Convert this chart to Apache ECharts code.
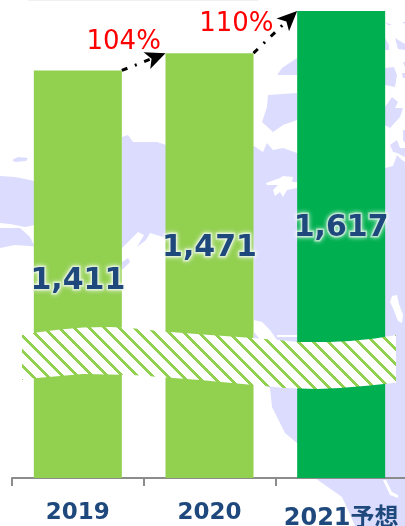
<!DOCTYPE html>
<html>
<head>
<meta charset="utf-8">
<style>
html, body { margin: 0; padding: 0; background: #fff; }
#chart { width: 405px; height: 526px; }
</style>
<script src="https://cdn.jsdelivr.net/npm/echarts@6/dist/echarts.min.js"></script>
</head>
<body>
<div id="chart"></div>
<script>
const categories = ['2019', '2020', '2021予想']
const values = [1411, 1471, 1617]
const growth = [104, 110]

const LIGHT_GREEN = '#92d050'
const DARK_GREEN = '#00b050'
const NAVY = '#1f497d'
const MAP = '#dcdcff'
const BAR_WIDTH = 88

// vertical nudges of the value labels, same order as values
const labelOffsets = [7, -17, -16]
// where each growth label sits relative to the middle of its arrow
const growthOffsets = [[-20, -20], [-39, -8]]

// background world map, traced roughly
const mapLand = [
  [[0,176],[15,177],[30,180],[45,184],[60,187],[80,190],[100,193],[122,200],[122,137],[128,135],[133,142],[157,142],[166,145],[254,146],[257,148],[263,152],[267,143],[273,150],[283,148],[297,153],[385,168],[393,166],[397,155],[402,160],[405,162],[405,478],[385,478],[297,443],[285,433],[272,407],[270,388],[254,380],[254,260],[166,237],[163,237],[150,233],[146,240],[137,247],[144,235],[138,232],[133,237],[122,248],[122,262],[128,258],[130,262],[122,270],[100,218],[75,211],[62,212],[55,213],[50,222],[25,227],[10,224],[0,223]],
  [[0,228],[20,228],[30,237],[34,245],[42,247],[15,245],[0,248]],
  [[12,160],[18,157],[28,158],[26,161],[15,162]],
  [[277,75],[282,68],[297,58],[297,75],[283,75]],
  [[268,95],[297,93],[297,120],[283,125],[273,132],[262,122],[267,107]],
  [[385,22],[392,25],[388,25]],
  [[402,22],[405,22],[405,24]],
  [[385,38],[389,45],[389,50],[385,50]],
  [[395,38],[405,44],[405,50],[398,49]],
  [[403,62],[405,62],[405,67]],
  [[385,68],[394,67],[397,75],[395,87],[385,85]],
  [[402,73],[405,73],[405,78],[403,78]],
  [[385,107],[392,97],[398,102],[395,108],[403,108],[400,117],[390,128],[385,125]],
  [[403,130],[405,130],[405,143],[403,140]],
  [[390,145],[397,140],[400,148],[405,148],[405,157],[397,153],[393,152]],
  [[315,478],[405,478],[405,526],[355,526],[348,510],[342,497]]
]
const mapWater = [
  [[266,183],[280,178],[283,176],[293,177],[292,182],[297,182],[297,188],[287,190],[283,197],[280,192],[275,196],[273,190],[278,185],[267,185]],
  [[254,320],[262,322],[270,330],[277,340],[262,342],[254,332]],
  [[277,335],[297,335],[297,337],[277,337]],
  [[392,296],[397,295],[399,304],[403,315],[402,323],[398,321],[393,308],[390,302]],
  [[383,480],[386,480],[392,492],[398,495],[398,498],[390,495]]
]
const bandEdge = [
  [22,335],[40,332],[60,329.5],[83,327.5],[110,327],[130,328],[167,331.7],[210,335],[253,338],[300,342],[330,342],[350,341],[375,338.5],[396,335],
  [396,382.7],[367,385.7],[340,388],[317,389],[285,388],[253,385],[200,380],[133,375],[83,374],[60,376],[37,378],[22,380]
]

function hatchTile() {
  const size = 15
  const c = document.createElement('canvas')
  c.width = size
  c.height = size
  const ctx = c.getContext('2d')
  ctx.fillStyle = '#fff'
  ctx.fillRect(0, 0, size, size)
  ctx.fillStyle = LIGHT_GREEN
  for (let y = 0; y < size; y++) {
    for (let x = 0; x < size; x++) {
      if ((x - y + size) % size < 4) ctx.fillRect(x, y, 1, 1)
    }
  }
  return c
}

const poly = (points, fill, z) => ({ type: 'polygon', silent: true, z, shape: { points }, style: { fill } })

const chart = echarts.init(document.getElementById('chart'), null, { renderer: 'canvas' })

chart.setOption({
  animation: false,
  backgroundColor: '#fff',
  grid: { left: 12, width: 395, top: 0, bottom: 48, outerBoundsMode: 'none' },
  xAxis: {
    type: 'category',
    data: categories.map((c, i) => (i === 2 ? { value: c, textStyle: { padding: [5, 0, 0, 0], fontSize: 24 } } : c)),
    axisLine: { lineStyle: { color: '#8c8c8c', width: 2 } },
    axisTick: { show: true, length: 8, lineStyle: { color: '#8c8c8c', width: 2 } },
    axisLabel: {
      interval: 0,
      margin: 24,
      color: NAVY,
      fontSize: 23,
      fontWeight: 'bold',
      fontFamily: '"DejaVu Sans", "Noto Sans CJK JP", sans-serif'
    }
  },
  yAxis: { type: 'value', min: 0, max: 1655, show: false },
  graphic: [
    { type: 'rect', silent: true, z: -1, shape: { x: 28, y: -2, width: 230, height: 3 }, style: { fill: '#f0f0f0' } },
    ...mapLand.map(p => poly(p, MAP, -2)),
    ...mapWater.map(p => poly(p, '#fff', -1)),
    poly(bandEdge, { image: hatchTile(), repeat: 'repeat' }, 20)
  ],
  series: [
    {
      type: 'bar',
      barWidth: BAR_WIDTH,
      z: 5,
      data: values.map((v, i) => ({
        value: v,
        itemStyle: { color: i === 2 ? DARK_GREEN : LIGHT_GREEN },
        label: { offset: [0, labelOffsets[i]] }
      })),
      label: {
        show: true,
        position: 'inside',
        formatter: p => p.value.toLocaleString('en-US'),
        color: NAVY,
        fontSize: 30,
        fontWeight: 'bold',
        fontFamily: '"DejaVu Sans", sans-serif',
        textBorderColor: 'rgba(235,245,235,0.55)',
        textBorderWidth: 3,
        textShadowColor: 'rgba(255,255,255,0.9)',
        textShadowBlur: 5
      }
    },
    {
      // growth arrows between bar tops
      type: 'custom',
      z: 10,
      silent: true,
      data: growth.map((g, i) => [i, values[i], values[i + 1], g]),
      encode: { x: 0, y: 1 },
      renderItem: (params, api) => {
        const a = api.coord([api.value(0), api.value(1)])
        const b = api.coord([api.value(0) + 1, api.value(2)])
        const x1 = a[0] + BAR_WIDTH / 2
        const y1 = a[1]
        const x2 = b[0] - BAR_WIDTH / 2
        const y2 = b[1]
        const ang = Math.atan2(y2 - y1, x2 - x1)
        const back = (d, s) => [
          x2 - Math.cos(ang) * d - Math.sin(ang) * s,
          y2 - Math.sin(ang) * d + Math.cos(ang) * s
        ]
        const off = growthOffsets[params.dataIndex]
        return {
          type: 'group',
          children: [
            {
              type: 'line',
              shape: { x1, y1, x2: back(14, 0)[0], y2: back(14, 0)[1] },
              style: { stroke: '#000', lineWidth: 3, lineDash: [6, 8, 2, 8], fill: null }
            },
            {
              type: 'polygon',
              shape: { points: [[x2, y2], back(20, 9), back(15, 0), back(20, -9)] },
              style: { fill: '#000' }
            },
            {
              type: 'text',
              style: {
                x: (x1 + x2) / 2 + off[0],
                y: (y1 + y2) / 2 + off[1],
                text: api.value(3) + '%',
                fill: '#ff0000',
                fontSize: 26,
                fontFamily: '"DejaVu Sans", sans-serif',
                align: 'center',
                verticalAlign: 'middle'
              }
            }
          ]
        }
      }
    }
  ]
})

window.addEventListener('resize', () => chart.resize())
</script>
</body>
</html>
